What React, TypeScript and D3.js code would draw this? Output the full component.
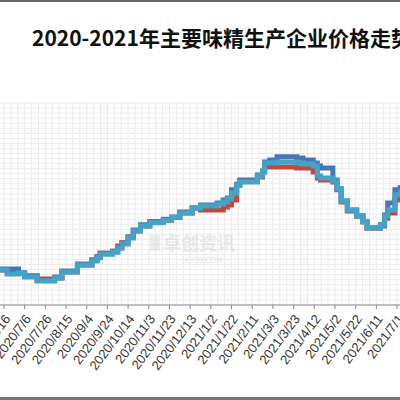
import React from "react";
import * as d3 from "d3";

const titleText = "2020-2021年主要味精生产企业价格走势";

const dates = [
  "2020-06-12", "2020-06-19", "2020-06-30", "2020-07-06", "2020-07-18", "2020-08-04",
  "2020-08-11", "2020-08-26", "2020-09-09", "2020-09-14", "2020-09-17", "2020-09-29",
  "2020-10-04", "2020-10-08", "2020-10-14", "2020-10-19", "2020-10-26", "2020-11-04",
  "2020-11-17", "2020-11-25", "2020-12-03", "2020-12-15", "2020-12-23", "2021-01-08",
  "2021-01-14", "2021-01-18", "2021-01-22", "2021-01-27", "2021-01-30", "2021-02-16",
  "2021-02-21", "2021-02-23", "2021-02-28", "2021-03-07", "2021-03-26", "2021-04-01",
  "2021-04-11", "2021-04-15", "2021-04-18", "2021-04-30", "2021-05-04", "2021-05-08",
  "2021-05-14", "2021-05-23", "2021-05-29", "2021-06-02", "2021-06-15", "2021-06-19",
  "2021-06-22", "2021-06-29", "2021-07-04",
];

const redSeries = [
  7040, 7010, 6950, 6860, 6770, 6800, 6980, 7190, 7340, 7430, 7540, 7600,
  7750, 7850, 8020, 8200, 8350, 8470, 8520, 8610, 8730, 8880, 8820, 8820,
  8910, 8970, 9120, 9560, 9680, 9800, 9950, 10130, 10100, 10100, 10070, 10070,
  9950, 9770, 9710, 9650, 9420, 9060, 8790, 8640, 8470, 8290, 8350, 8580,
  8730, 9120, 9270,
];

const blueSeries = [
  7070, 7070, 6950, 6860, 6740, 6830, 7010, 7220, 7340, 7430, 7540, 7600,
  7690, 7840, 8020, 8230, 8380, 8470, 8550, 8610, 8760, 8880, 8970, 9030,
  9120, 9180, 9420, 9590, 9710, 9860, 9980, 10250, 10310, 10400, 10370, 10310,
  10220, 10130, 10070, 9710, 9450, 9090, 8820, 8640, 8470, 8290, 8380, 8670,
  9030, 9420, 9560,
];

const aquaSeries = [
  7040, 6920, 6950, 6830, 6710, 6800, 6980, 7190, 7310, 7400, 7510, 7570,
  7690, 7810, 7990, 8200, 8350, 8440, 8520, 8610, 8730, 8880, 8940, 9000,
  9060, 9150, 9330, 9560, 9650, 9830, 9950, 10220, 10220, 10250, 10220, 10190,
  10130, 9830, 9770, 9680, 9450, 9090, 8820, 8640, 8470, 8290, 8380, 8640,
  8820, 9270, 9420,
];

const tickLabels = [
  "2020/6/16", "2020/7/6", "2020/7/26", "2020/8/15", "2020/9/4", "2020/9/24",
  "2020/10/14", "2020/11/3", "2020/11/23", "2020/12/13", "2021/1/2", "2021/1/22",
  "2021/2/11", "2021/3/3", "2021/3/23", "2021/4/12", "2021/5/2", "2021/5/22",
  "2021/6/11", "2021/7/1",
];

const seriesList = [
  { name: "red", values: redSeries, color: "#c4473f" },
  { name: "blue", values: blueSeries, color: "#4a76b6" },
  { name: "aqua", values: aquaSeries, color: "#45a3c5" },
];

const W = 400;
const H = 400;
const plotTop = 103;
const plotBottom = 305;

export default function App() {
  const parseISO = d3.timeParse("%Y-%m-%d");
  const parseTick = d3.timeParse("%Y/%m/%d");
  const dParsed = dates.map((s) => parseISO(s) as Date);

  const x = d3
    .scaleTime()
    .domain([parseTick("2020/6/16") as Date, parseTick("2021/7/1") as Date])
    .range([4, 397]);
  const y = d3.scaleLinear().domain([6000, 12000]).range([plotBottom, plotTop]);

  const start = x.invert(0);
  const end = x.invert(W);
  const vGrid: Date[] = [];
  const t0 = parseTick("2020/6/16") as Date;
  for (let k = -3; k < 70; k++) {
    const dt = new Date(t0.getTime() + (k * 20 * 86400000) / 3);
    if (dt >= start && dt <= end) vGrid.push(dt);
  }
  const hGrid = d3.range(6000, 12001, 150);

  const line = (vals: number[]) =>
    d3
      .line<number>()
      .x((_, i) => x(dParsed[i]))
      .y((v) => y(v))
      .curve(d3.curveStepAfter)(vals) as string;

  const ticks = tickLabels.map((t) => ({ label: t, date: parseTick(t) as Date }));

  return (
    <svg
      width={W}
      height={H}
      style={{ position: "absolute", left: 0, top: 0, background: "#fff" }}
    >
      <rect x={0} y={0} width={W} height={H} fill="#fff" />
      <line x1={0} x2={W} y1={1} y2={1} stroke="#666" strokeWidth={2} />
      <line x1={0} x2={W} y1={398.5} y2={398.5} stroke="#777" strokeWidth={3} />
      <text
        x={32}
        y={46}
        fontFamily="'Noto Sans CJK SC', sans-serif"
        fontWeight="bold"
        fontSize={21}
        fill="#111"
      >
        {titleText}
      </text>
      <g>
        {hGrid.map((v) => (
          <line key={"h" + v} x1={0} x2={W} y1={y(v)} y2={y(v)} stroke="#ebebeb" strokeWidth={1} />
        ))}
        {vGrid.map((d, i) => (
          <line key={"v" + i} x1={x(d)} x2={x(d)} y1={plotTop} y2={plotBottom} stroke="#ebebeb" strokeWidth={1} />
        ))}
      </g>
      <g fill="#d8d8d8" fontFamily="'Noto Sans CJK SC', sans-serif">
        <text x={163} y={250} fontSize={18} fontWeight="bold" opacity={0.55}>卓创资讯</text>
        <text x={182} y={263} fontSize={8} opacity={0.55}>SCI99.COM</text>
        <rect x={150} y={235} width={10} height={16} opacity={0.45} />
      </g>
      <g>
        {seriesList.map((s) => (
          <path key={s.name} d={line(s.values)} fill="none" stroke={s.color} strokeWidth={5} />
        ))}
      </g>
      <line x1={0} x2={W} y1={plotBottom} y2={plotBottom} stroke="#8a8a8a" strokeWidth={1} />
      <g>
        {ticks.map((t) => (
          <g key={t.label} transform={`translate(${x(t.date)},${plotBottom})`}>
            <line y1={0} y2={4} stroke="#8a8a8a" />
            <text
              transform="translate(7,14) rotate(-53)"
              textAnchor="end"
              fontFamily="'Liberation Sans', Arial, sans-serif"
              fontSize={13}
              fill="#333"
            >
              {t.label}
            </text>
          </g>
        ))}
      </g>
    </svg>
  );
}
